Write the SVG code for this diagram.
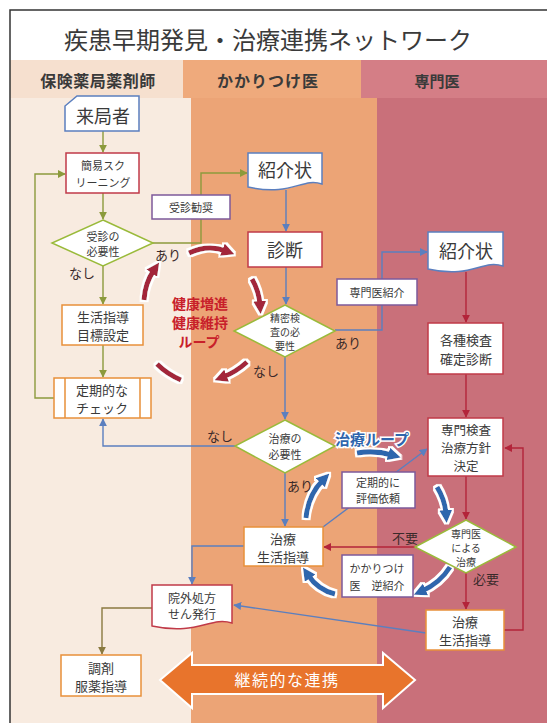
<svg xmlns="http://www.w3.org/2000/svg" width="547" height="723" viewBox="0 0 547 723">
<style>
text{font-family:"Noto Sans CJK JP","Noto Sans",sans-serif;fill:#3a3a3a;text-anchor:middle;dominant-baseline:central}
.box{fill:#fff;stroke-width:1.5}
.rb{stroke:#c03a48}.ob{stroke:#e8903a}.bb{stroke:#5b7fbf}.pb{stroke:#7d5a9a}.gd{stroke:#9aba3a}
.t10{font-size:10px}.t11{font-size:11px}.t12{font-size:12px}.t13{font-size:13px}.t18{font-size:18px}
.lbl{font-size:13px;fill:#3a2a2a}
.c{fill:none;stroke-width:1.4}
.ol{stroke:#8c9a3c}.bl{stroke:#5b7fbf}.rd{stroke:#b3243a}.br{stroke:#8a7a40}
.th{fill:none;stroke-width:5}
.hl{font-size:14px;font-weight:bold;fill:#c8202a}
</style>
<defs>
<marker id="mo" viewBox="0 0 10 10" refX="9" refY="5" markerWidth="8" markerHeight="8" markerUnits="userSpaceOnUse" orient="auto"><path d="M0,0 L10,5 L0,10 z" fill="#8c9a3c"/></marker>
<marker id="mb" viewBox="0 0 10 10" refX="9" refY="5" markerWidth="8" markerHeight="8" markerUnits="userSpaceOnUse" orient="auto"><path d="M0,0 L10,5 L0,10 z" fill="#5b7fbf"/></marker>
<marker id="mr" viewBox="0 0 10 10" refX="9" refY="5" markerWidth="8" markerHeight="8" markerUnits="userSpaceOnUse" orient="auto"><path d="M0,0 L10,5 L0,10 z" fill="#b3243a"/></marker>
<marker id="mn" viewBox="0 0 10 10" refX="9" refY="5" markerWidth="8" markerHeight="8" markerUnits="userSpaceOnUse" orient="auto"><path d="M0,0 L10,5 L0,10 z" fill="#8a7a40"/></marker>
<marker id="tr" viewBox="0 0 10 10" refX="3" refY="5" markerWidth="2.6" markerHeight="2.6" orient="auto"><path d="M0,0 L10,5 L0,10 z" fill="#a3283a"/></marker>
<marker id="tb" viewBox="0 0 10 10" refX="3" refY="5" markerWidth="2.6" markerHeight="2.6" orient="auto"><path d="M0,0 L10,5 L0,10 z" fill="#2f66ad"/></marker>
<filter id="wo" x="-10%" y="-10%" width="120%" height="120%"><feMorphology in="SourceAlpha" operator="dilate" radius="1.5" result="d"/><feFlood flood-color="#ffffff"/><feComposite in2="d" operator="in" result="w"/><feMerge><feMergeNode in="w"/><feMergeNode in="SourceGraphic"/></feMerge></filter>
</defs>

<rect x="0" y="0" width="547" height="723" fill="#fff"/>
<!-- columns -->
<rect x="10" y="60" width="181" height="663" fill="#f8ebe0"/>
<rect x="191" y="98" width="186" height="625" fill="#eca476"/>
<rect x="377" y="98" width="170" height="625" fill="#c9707a"/>
<rect x="10" y="60" width="173" height="38" fill="#f6e0cf"/>
<rect x="183" y="60" width="178" height="38" fill="#efaa7c"/>
<rect x="361" y="60" width="186" height="38" fill="#d47e86"/>
<rect x="361" y="98" width="16" height="625" fill="#eca476"/>
<rect x="183" y="98" width="8" height="625" fill="#f8ebe0"/>
<path d="M10,723 V10 H547" fill="none" stroke="#333" stroke-width="1.5"/>

<text x="268" y="38" style="font-size:24px" fill="#222">疾患早期発見・治療連携ネットワーク</text>
<text x="98" y="80" style="font-size:16px;font-weight:bold;letter-spacing:0.5px">保険薬局薬剤師</text>
<text x="268" y="80" style="font-size:16px;font-weight:bold;letter-spacing:1px">かかりつけ医</text>
<text x="437" y="80" style="font-size:15px;font-weight:bold">専門医</text>

<!-- connectors -->
<g id="connectors">
<path class="c ol" d="M103,131 V152" marker-end="url(#mo)"/>
<path class="c ol" d="M103,193 V219" marker-end="url(#mo)"/>
<path class="c ol" d="M103,265 V304" marker-end="url(#mo)"/>
<path class="c ol" d="M103,345 V377" marker-end="url(#mo)"/>
<path class="c ol" d="M54,398 H35 V174 H65" marker-end="url(#mo)"/>
<path class="c ol" d="M153,243 H201 V173 H247" marker-end="url(#mo)"/>
<path class="c br" d="M152,608 H102 V654" marker-end="url(#mn)"/>
<path class="c bl" d="M286,190 V231" marker-end="url(#mb)"/>
<path class="c bl" d="M286,267 V304" marker-end="url(#mb)"/>
<path class="c bl" d="M285,357 V419" marker-end="url(#mb)"/>
<path class="c bl" d="M335,330 H382 V252 H427" marker-end="url(#mb)"/>
<path class="c bl" d="M235,446 H103 V419" marker-end="url(#mb)"/>
<path class="c bl" d="M285,473 V526" marker-end="url(#mb)"/>
<path class="c bl" d="M244,546 H192 V584" marker-end="url(#mb)"/>
<path class="c bl" d="M323,527 L427,449" marker-end="url(#mb)"/>
<path class="c bl" d="M426,633 L234,605" marker-end="url(#mb)"/>
<path class="c rd" d="M466,272 V322" marker-end="url(#mr)"/>
<path class="c rd" d="M466,374 V417" marker-end="url(#mr)"/>
<path class="c rd" d="M466,476 V519" marker-end="url(#mr)"/>
<path class="c rd" d="M415,547 H324" marker-end="url(#mr)"/>
<path class="c rd" d="M466,572 V609" marker-end="url(#mr)"/>
<path class="c rd" d="M504,630 H523 V448 H505" marker-end="url(#mr)"/>
</g>

<!-- loop arrows -->
<g id="health-loop" filter="url(#wo)">
<path class="th" stroke="#a3283a" d="M189,253 Q208,244 226,251" marker-end="url(#tr)"/>
<path class="th" stroke="#a3283a" d="M252,279 Q259,291 260,305" marker-end="url(#tr)"/>
<path class="th" stroke="#a3283a" d="M247,362 Q236,372 223,377" marker-end="url(#tr)"/>
<path class="th" stroke="#a3283a" d="M181,380 Q167,374 157,364"/>
<path class="th" stroke="#a3283a" d="M144,300 Q145,283 154,270" marker-end="url(#tr)"/>
</g>
<g id="treat-loop" filter="url(#wo)">
<path class="th" stroke="#2f66ad" d="M357,453 Q375,450 392,455" marker-end="url(#tb)"/>
<path class="th" stroke="#2f66ad" d="M437,487 Q445,500 446,514" marker-end="url(#tb)"/>
<path class="th" stroke="#2f66ad" d="M450,567 Q440,583 422,591" marker-end="url(#tb)"/>
<path class="th" stroke="#2f66ad" d="M335,594 Q318,590 308,575" marker-end="url(#tb)"/>
<path class="th" stroke="#2f66ad" d="M306,518 Q308,495 323,480" marker-end="url(#tb)"/>
</g>
<g id="loop-labels">
<text class="hl" x="200" y="303">健康増進</text>
<text class="hl" x="200" y="322">健康維持</text>
<text class="hl" x="199" y="341">ループ</text>
<text x="372" y="438" style="font-size:15px;font-weight:bold;fill:#2f66ad;stroke:#fff;stroke-width:3;paint-order:stroke">治療ループ</text>
</g>

<!-- edge labels -->
<g id="edge-labels">
<text class="lbl" x="82" y="272">なし</text>
<text class="lbl" x="168" y="254">あり</text>
<text class="lbl" x="348" y="342">あり</text>
<text class="lbl" x="266" y="370">なし</text>
<text class="lbl" x="220" y="435">なし</text>
<text class="lbl" x="300" y="485">あり</text>
<text class="lbl" x="405" y="537">不要</text>
<text class="lbl" x="486" y="578">必要</text>
</g>

<!-- nodes -->
<g id="n-raikyoku"><path class="box bb" d="M77,96 H139 V131 H65 V106 Z"/><text class="t18" x="103" y="115">来局者</text></g>
<g id="n-screening"><rect class="box rb" x="66" y="153" width="73" height="40"/><text class="t11" x="103" y="165">簡易スク</text><text class="t11" x="103" y="182">リーニング</text></g>
<g id="n-jushin"><path class="box gd" d="M103,220 L153,243 L103,266 L52,243 Z"/><text class="t11" x="103" y="236">受診の</text><text class="t11" x="103" y="251">必要性</text></g>
<g id="n-kansho"><rect class="box pb" x="152" y="195" width="78" height="24"/><text class="t11" x="191" y="207">受診勧奨</text></g>
<g id="n-seikatsu1"><rect class="box ob" x="62" y="305" width="81" height="40"/><text class="t13" x="103" y="316">生活指導</text><text class="t13" x="103" y="334">目標設定</text></g>
<g id="n-teiki"><rect class="box ob" x="54" y="378" width="97" height="40"/><path d="M65,378 V418 M140,378 V418" stroke="#e8903a" stroke-width="1.5"/><text class="t13" x="102" y="389">定期的な</text><text class="t13" x="102" y="407">チェック</text></g>
<g id="n-shokai1"><path class="box bb" d="M248,153 H322 V184 C302,177 292,197 248,187 Z"/><text class="t18" x="285" y="169">紹介状</text></g>
<g id="n-shindan"><rect class="box rb" x="248" y="232" width="74" height="35"/><text class="t18" x="285" y="249">診断</text></g>
<g id="n-seimitsu"><path class="box gd" d="M285,305 L335,331 L285,357 L234,331 Z"/><text class="t10" x="285" y="317">精密検</text><text class="t10" x="285" y="331">査の必</text><text class="t10" x="285" y="345">要性</text></g>
<g id="n-senmonshokai"><rect class="box pb" x="337" y="279" width="80" height="26"/><text class="t11" x="377" y="292">専門医紹介</text></g>
<g id="n-chiryohitsuyo"><path class="box gd" d="M285,420 L335,446 L285,473 L235,446 Z"/><text class="t11" x="285" y="438">治療の</text><text class="t11" x="285" y="454">必要性</text></g>
<g id="n-chiryo2"><rect class="box ob" x="244" y="527" width="79" height="39"/><text class="t13" x="283" y="538">治療</text><text class="t13" x="283" y="556">生活指導</text></g>
<g id="n-hyoka"><rect class="box pb" x="342" y="472" width="73" height="36"/><text class="t11" x="378" y="482">定期的に</text><text class="t11" x="378" y="498">評価依頼</text></g>
<g id="n-gyakushokai"><rect class="box pb" x="342" y="555" width="71" height="42"/><text class="t11" x="377" y="568">かかりつけ</text><text class="t11" x="377" y="585" xml:space="preserve">医　逆紹介</text></g>
<g id="n-ingai"><path class="box rb" d="M152,585 H232 V623 C210,616 198,636 152,626 Z"/><text class="t12" x="192" y="597">院外処方</text><text class="t12" x="192" y="613">せん発行</text></g>
<g id="n-chozai"><rect class="box ob" x="61" y="655" width="80" height="41"/><text class="t13" x="101" y="667">調剤</text><text class="t13" x="101" y="685">服薬指導</text></g>
<g id="n-shokai2"><path class="box bb" d="M428,232 H503 V266 C482,259 472,279 428,269 Z"/><text class="t18" x="466" y="250">紹介状</text></g>
<g id="n-kakushu"><rect class="box rb" x="428" y="323" width="75" height="51"/><text class="t13" x="466" y="339">各種検査</text><text class="t13" x="466" y="358">確定診断</text></g>
<g id="n-senmonkensa"><rect class="box rb" x="428" y="418" width="75" height="58"/><text x="466" y="429" style="font-size:12.5px">専門検査</text><text x="466" y="447" style="font-size:12.5px">治療方針</text><text x="466" y="465" style="font-size:12.5px">決定</text></g>
<g id="n-senmonchiryo"><path class="box gd" d="M466,520 L516,547 L466,573 L415,547 Z"/><text class="t10" x="466" y="533">専門医</text><text class="t10" x="466" y="547">による</text><text class="t10" x="466" y="561">治療</text></g>
<g id="n-chiryo3"><rect class="box ob" x="426" y="610" width="78" height="40"/><text class="t13" x="465" y="621">治療</text><text class="t13" x="465" y="639">生活指導</text></g>

<g id="n-renkei"><path d="M160,680 L192,653 V665 H383 V653 L415,680 L383,708 V694 H192 V708 Z" fill="#e8742c" stroke="#fff" stroke-width="2"/><text x="287" y="679" style="font-size:16px;letter-spacing:1.5px;fill:#fff">継続的な連携</text></g>
</svg>
